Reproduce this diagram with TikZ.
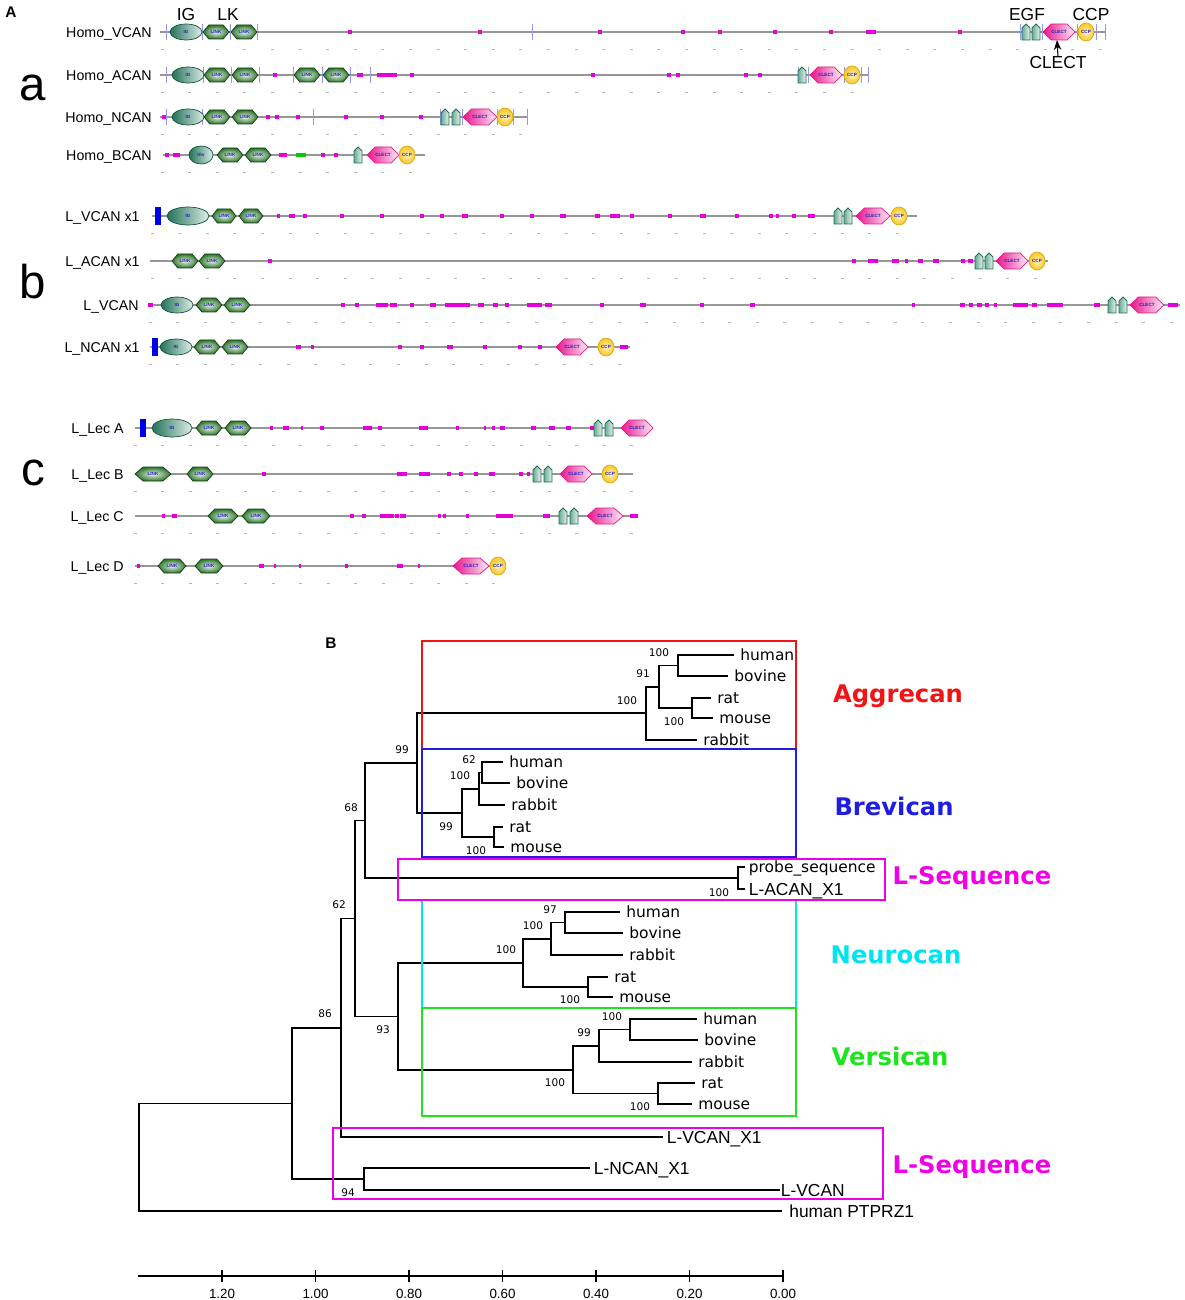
\documentclass[tikz,border=0pt]{standalone}
\usepackage{fontspec}
\setmainfont{Liberation Sans}
\newfontfamily\treefont{DejaVu Sans}
\usetikzlibrary{arrows.meta}

\definecolor{igg}{RGB}{40,135,105}
\definecolor{lkg}{RGB}{45,120,45}
\definecolor{clp}{RGB}{232,20,140}
\definecolor{ccy}{RGB}{250,200,30}
\definecolor{lowc}{RGB}{230,0,220}
\definecolor{rowg}{RGB}{150,150,150}
\definecolor{bndb}{RGB}{150,150,235}
\definecolor{dtxt}{RGB}{30,30,200}
\definecolor{boxr}{RGB}{240,20,20}
\definecolor{boxb}{RGB}{30,30,220}
\definecolor{boxm}{RGB}{240,0,230}
\definecolor{boxc}{RGB}{0,228,240}
\definecolor{boxg}{RGB}{30,228,30}

% domain glyphs (x, y, ...)
\newcommand\igdom[5]{%
  \shade[left color=igg!85!black, right color=igg!15!white, draw=igg!60!black, line width=0.4pt]
    (#1,#2) ellipse [x radius=#3, y radius=#4];
  \node[dtext] at (#1,#2) {#5};}
\newcommand\lnkdom[3]{%
  \shade[inner color=lkg!10!white, outer color=lkg, draw=lkg!50!black, line width=0.4pt]
    (#1-#3,#2) -- (#1-0.55*#3,#2-7) -- (#1+0.55*#3,#2-7) -- (#1+#3,#2)
    -- (#1+0.55*#3,#2+7) -- (#1-0.55*#3,#2+7) -- cycle;
  \node[dtext] at (#1,#2) {LINK};}
\newcommand\cldom[3]{%
  \shade[left color=clp, right color=clp!8!white, draw=clp, line width=0.4pt]
    (#1-#3,#2) -- (#1-0.5*#3,#2-8) -- (#1+0.5*#3,#2-8) -- (#1+#3,#2)
    -- (#1+0.5*#3,#2+8) -- (#1-0.5*#3,#2+8) -- cycle;
  \node[dtext] at (#1,#2) {CLECT};}
\newcommand\ccpdom[2]{%
  \shade[inner color=ccy!25!white, outer color=ccy, draw=ccy!85!black, line width=0.4pt]
    (#1,#2) ellipse [x radius=8, y radius=9];
  \node[dtext] at (#1,#2) {CCP};}
\newcommand\egfdom[2]{%
  \shade[left color=igg!70!white, right color=igg!10!white, draw=igg!80!black, line width=0.5pt]
    (#1-4,#2+8) -- (#1-4,#2-4) -- (#1,#2-8) -- (#1+4,#2-4) -- (#1+4,#2+8) -- cycle;}
\newcommand\sigdom[2]{\fill[blue!90!black] (#1-3,#2-9) rectangle (#1+3,#2+9);}
% low complexity bars, boundary marks, ruler
\newcommand\lcbars[2]{\foreach \a/\b in {#2} \fill[lowc] (\a,#1-1.9) rectangle (\b,#1+1.9);}
\newcommand\bnds[2]{\foreach \a in {#2} \draw[bndb, line width=0.4pt] (\a,#1-8) -- (\a,#1+8);}
\newcommand\ruler[3]{\foreach \k in {0,...,#3}
  \draw[rowg!70, line width=0.5pt] ({#1+27.6*\k-1.5},#2+17) -- ({#1+27.6*\k+1.5},#2+17);}

\begin{document}
\begin{tikzpicture}[x=0.02cm, y=-0.02cm, >=Stealth,
    rowlab/.style={anchor=east, inner sep=0pt, text height=5.8pt, text depth=0pt, font=\fontsize{8.1}{9}\selectfont},
    domhead/.style={inner sep=0pt, font=\fontsize{9.9}{11}\selectfont},
    dtext/.style={inner sep=0pt, text=dtxt, font=\bfseries\fontsize{2.6}{3}\selectfont},
    sublab/.style={inner sep=0pt, font=\fontsize{27}{30}\selectfont},
    panlab/.style={inner sep=0pt, font=\bfseries\fontsize{8.8}{10}\selectfont},
    rowline/.style={draw=rowg, line width=0.7pt},
    leaf/.style={anchor=west, inner xsep=3.4pt, inner ysep=0pt, text height=6.4pt, text depth=0pt, font=\treefont\fontsize{8.8}{10}\selectfont},
    aleaf/.style={anchor=west, inner xsep=2pt, inner ysep=0pt, text height=7pt, text depth=0pt, font=\fontsize{9.9}{11}\selectfont},
    boot/.style={inner sep=0pt, font=\treefont\fontsize{6}{7}\selectfont},
    grp/.style={inner sep=0pt, font=\treefont\bfseries\fontsize{13.8}{15}\selectfont},
    br/.style={line width=0.8pt},
    bx/.style={line width=1.3pt}]
  \useasboundingbox (0,0) rectangle (1184,1300);

  % ---------------- Panel A ----------------
  \node[panlab] (pA) at (11,12) {A};
  \node[sublab] (sa) at (33,88) {a};
  \node[sublab] (sb) at (33,282) {b};
  \node[sublab] (sc) at (33,473) {c};

  % Homo_VCAN
  \node[rowlab] (r1) at (152,32) {Homo\_VCAN};
  \draw[rowline] (160,32) -- (1105,32);
  \ruler{162}{32}{34}
  \bnds{32}{166,202,230,257,532,1020,1042,1077,1096,1105}
  \lcbars{32}{348/352,478/482,598/602,681/685,718/722,773/777,829/833,866/876,958/962}
  \igdom{186}{32}{16}{8}{IG}
  \lnkdom{216}{32}{13} \lnkdom{244}{32}{13}
  \egfdom{1026}{32} \egfdom{1036}{32}
  \cldom{1059}{32}{16}
  \ccpdom{1086}{32}
  \node[domhead] (hIG) at (186,15) {IG};
  \node[domhead] (hLK) at (228,15) {LK};
  \node[domhead] (hEGF) at (1027,15) {EGF};
  \node[domhead] (hCCP) at (1091,15) {CCP};
  \node[domhead] (hCL) at (1058,63) {CLECT};
  \coordinate (vcl) at (1057,40);
  \draw[->, line width=0.6pt] (hCL.north) -- (vcl);

  % Homo_ACAN
  \node[rowlab] (r2) at (152,75) {Homo\_ACAN};
  \draw[rowline] (160,75) -- (868,75);
  \ruler{162}{75}{25}
  \bnds{75}{166,203,231,259,293,322,350,370,798,808,844,861,868}
  \lcbars{75}{273/277,357/363,377/397,410/414,591/595,667/671,676/680,744/748,758/762}
  \igdom{188}{75}{16}{8}{IG}
  \lnkdom{217}{75}{13} \lnkdom{245}{75}{13}
  \lnkdom{307}{75}{13} \lnkdom{336}{75}{13}
  \egfdom{802}{75}
  \cldom{826}{75}{16}
  \ccpdom{852}{75}

  % Homo_NCAN
  \node[rowlab] (r3) at (152,117) {Homo\_NCAN};
  \draw[rowline] (160,117) -- (527,117);
  \ruler{162}{117}{13}
  \bnds{117}{166,202,313,440,462,497,513,527}
  \lcbars{117}{162/166,266/270,275/279,296/300,344/348,380/384,419/423}
  \igdom{188}{117}{16}{8}{IG}
  \lnkdom{217}{117}{13} \lnkdom{245}{117}{13}
  \egfdom{445}{117} \egfdom{456}{117}
  \cldom{480}{117}{17}
  \ccpdom{505}{117}

  % Homo_BCAN
  \node[rowlab] (r4) at (152,155) {Homo\_BCAN};
  \draw[rowline] (163,155) -- (425,155);
  \ruler{162}{155}{9}
  \lcbars{155}{165/169,173/180,279/287,321/325,334/338}
  \fill[green!80!black] (296,153.1) rectangle (306,156.9);
  \igdom{201}{155}{12}{9}{IGv}
  \lnkdom{230}{155}{13} \lnkdom{258}{155}{13}
  \egfdom{358}{155}
  \cldom{383}{155}{16}
  \ccpdom{407}{155}

  % L_VCAN x1
  \node[rowlab] (r5) at (140,216) {L\_VCAN x1};
  \draw[rowline] (152,216) -- (917,216);
  \ruler{152}{216}{27}
  \sigdom{158}{216}
  \lcbars{216}{277/280,289/295,303/307,340/344,380/384,420/424,440/444,462/468,500/504,530/534,560/566,595/600,610/620,630/634,668/672,700/706,735/739,769/773,776/779,792/796,808/815}
  \igdom{188}{216}{21}{9}{IG}
  \lnkdom{224}{216}{12} \lnkdom{251}{216}{12}
  \egfdom{838}{216} \egfdom{848}{216}
  \cldom{873}{216}{17}
  \ccpdom{899}{216}

  % L_ACAN x1
  \node[rowlab] (r6) at (140,261) {L\_ACAN x1};
  \draw[rowline] (150,261) -- (1048,261);
  \ruler{152}{261}{32}
  \lcbars{261}{268/272,852/856,868/878,892/899,905/908,918/923,933/939,961/965,968/973}
  \lnkdom{185}{261}{13} \lnkdom{212}{261}{13}
  \egfdom{979}{261} \egfdom{989}{261}
  \cldom{1012}{261}{16}
  \ccpdom{1037}{261}

  % L_VCAN
  \node[rowlab] (r7) at (139,305) {L\_VCAN};
  \draw[rowline] (148,305) -- (1180,305);
  \ruler{150}{305}{37}
  \lcbars{305}{148/153,341/345,355/359,376/388,390/397,410/414,430/436,445/470,478/484,493/498,505/509,527/542,545/552,600/604,640/646,700/704,750/755,912/915,960/965,969/973,977/982,985/989,994/997,1013/1028,1032/1037,1047/1063,1094/1100,1168/1178}
  \igdom{177}{305}{16}{8}{IG}
  \lnkdom{209}{305}{13} \lnkdom{237}{305}{13}
  \egfdom{1112}{305} \egfdom{1123}{305}
  \cldom{1147}{305}{17}

  % L_NCAN x1
  \node[rowlab] (r8) at (140,347) {L\_NCAN x1};
  \draw[rowline] (150,347) -- (630,347);
  \ruler{150}{347}{17}
  \sigdom{155}{347}
  \lcbars{347}{296/301,311/314,398/402,420/424,447/453,483/487,518/522,538/542,620/628}
  \igdom{176}{347}{16}{8}{IG}
  \lnkdom{207}{347}{13} \lnkdom{235}{347}{13}
  \cldom{572}{347}{16}
  \ccpdom{606}{347}

  % L_Lec A
  \node[rowlab] (r9) at (124,428) {L\_Lec A};
  \draw[rowline] (135,428) -- (653,428);
  \ruler{135}{428}{18}
  \sigdom{143}{428}
  \lcbars{428}{270/273,283/289,301/303,320/324,363/372,378/382,419/428,456/459,484/486,492/495,500/505,531/536,549/555,566/571,590/594}
  \igdom{172}{428}{20}{9}{IG}
  \lnkdom{209}{428}{13} \lnkdom{238}{428}{13}
  \egfdom{598}{428} \egfdom{609}{428}
  \cldom{637}{428}{16}

  % L_Lec B
  \node[rowlab] (r10) at (124,474) {L\_Lec B};
  \draw[rowline] (135,474) -- (633,474);
  \ruler{135}{474}{18}
  \lcbars{474}{262/266,397/407,419/430,447/451,459/463,474/478,489/495,519/523,527/530}
  \lnkdom{153}{474}{18} \lnkdom{200}{474}{13}
  \egfdom{537}{474} \egfdom{548}{474}
  \cldom{576}{474}{16}
  \ccpdom{610}{474}

  % L_Lec C
  \node[rowlab] (r11) at (124,516) {L\_Lec C};
  \draw[rowline] (135,516) -- (638,516);
  \ruler{135}{516}{18}
  \lcbars{516}{162/165,172/177,350/354,362/366,380/394,395/399,400/406,438/441,443/446,466/469,496/513,543/550,630/638}
  \lnkdom{223}{516}{15} \lnkdom{256}{516}{14}
  \egfdom{563}{516} \egfdom{574}{516}
  \cldom{605}{516}{18}

  % L_Lec D
  \node[rowlab] (r12) at (124,566) {L\_Lec D};
  \draw[rowline] (135,566) -- (505,566);
  \ruler{135}{566}{13}
  \lcbars{566}{137/140,259/264,274/276,299/301,345/348,397/403,418/420}
  \lnkdom{172}{566}{14} \lnkdom{209}{566}{14}
  \cldom{471}{566}{18}
  \ccpdom{498}{566}

  % ---------------- Panel B ----------------
  \node[panlab] (pB) at (331,643) {B};

  % Aggrecan
  \node[leaf] (aHu) at (734,655) {human};
  \node[leaf] (aBo) at (728,676) {bovine};
  \node[leaf] (aRa) at (711,698) {rat};
  \node[leaf] (aMo) at (713,718) {mouse};
  \node[leaf] (aRb) at (697,740) {rabbit};
  \coordinate (a1) at (678,665.5);
  \coordinate (a2) at (692,708);
  \coordinate (a3) at (659,687);
  \coordinate (a4) at (646,713);
  \draw[br] (a1) |- (aHu.west) (a1) |- (aBo.west) (a2) |- (aRa.west) (a2) |- (aMo.west)
    (a3) |- (a1) (a3) |- (a2) (a4) |- (a3) (a4) |- (aRb.west);
  \node[boot] at (659,653) {100};
  \node[boot] at (643,674) {91};
  \node[boot] at (627,701) {100};
  \node[boot] at (674,722) {100};

  % Brevican
  \node[leaf] (bHu) at (503,762) {human};
  \node[leaf] (bBo) at (510,783) {bovine};
  \node[leaf] (bRb) at (505,805) {rabbit};
  \node[leaf] (bRa) at (503,827) {rat};
  \node[leaf] (bMo) at (504,847) {mouse};
  \coordinate (b1) at (482,772.5);
  \coordinate (b2) at (479,789);
  \coordinate (b3) at (494,837);
  \coordinate (b4) at (462,813);
  \draw[br] (b1) |- (bHu.west) (b1) |- (bBo.west) (b2) |- (b1) (b2) |- (bRb.west)
    (b3) |- (bRa.west) (b3) |- (bMo.west) (b4) |- (b2) (b4) |- (b3);
  \node[boot] at (469,760) {62};
  \node[boot] at (460,776) {100};
  \node[boot] at (446,827) {99};
  \node[boot] at (476,851) {100};

  % probe / L-ACAN_X1
  \node[leaf, inner xsep=2pt] (pPr) at (745,867) {probe\_sequence};
  \node[aleaf] (pLa) at (745,889) {L-ACAN\_X1};
  \coordinate (p1) at (738,878);
  \draw[br] (p1) |- (pPr.west) (p1) |- (pLa.west);
  \node[boot] at (719,893) {100};

  % Neurocan
  \node[leaf] (nHu) at (620,912) {human};
  \node[leaf] (nBo) at (623,933) {bovine};
  \node[leaf] (nRb) at (623,955) {rabbit};
  \node[leaf] (nRa) at (608,977) {rat};
  \node[leaf] (nMo) at (613,997) {mouse};
  \coordinate (n1) at (565,922.5);
  \coordinate (n2) at (551,939);
  \coordinate (n3) at (588,987);
  \coordinate (n4) at (523,963);
  \draw[br] (n1) |- (nHu.west) (n1) |- (nBo.west) (n2) |- (n1) (n2) |- (nRb.west)
    (n3) |- (nRa.west) (n3) |- (nMo.west) (n4) |- (n2) (n4) |- (n3);
  \node[boot] at (550,910) {97};
  \node[boot] at (533,926) {100};
  \node[boot] at (506,950) {100};
  \node[boot] at (570,1000) {100};

  % Versican
  \node[leaf] (vHu) at (697,1019) {human};
  \node[leaf] (vBo) at (698,1040) {bovine};
  \node[leaf] (vRb) at (692,1062) {rabbit};
  \node[leaf] (vRa) at (695,1083) {rat};
  \node[leaf] (vMo) at (692,1104) {mouse};
  \coordinate (v1) at (630,1029.5);
  \coordinate (v2) at (599,1046);
  \coordinate (v3) at (658,1093.5);
  \coordinate (v4) at (573,1070);
  \draw[br] (v1) |- (vHu.west) (v1) |- (vBo.west) (v2) |- (v1) (v2) |- (vRb.west)
    (v3) |- (vRa.west) (v3) |- (vMo.west) (v4) |- (v2) (v4) |- (v3);
  \node[boot] at (612,1017) {100};
  \node[boot] at (584,1033) {99};
  \node[boot] at (555,1083) {100};
  \node[boot] at (640,1107) {100};

  % L-sequences and outgroup
  \node[aleaf] (lX) at (663,1137) {L-VCAN\_X1};
  \node[aleaf] (lN) at (590,1168) {L-NCAN\_X1};
  \node[aleaf, inner xsep=0.3pt] (lV) at (780,1190) {L-VCAN};
  \node[aleaf, inner xsep=4pt] (out) at (782,1211) {human PTPRZ1};

  % deeper nodes
  \coordinate (c1) at (417,763);
  \coordinate (c2) at (365,820.5);
  \coordinate (c3) at (398,1016.5);
  \coordinate (c4) at (355,918.5);
  \coordinate (l1) at (364,1179);
  \coordinate (c5) at (341,1028);
  \coordinate (c6) at (292,1103.5);
  \coordinate (c7) at (139,1157);
  \draw[br] (c1) |- (a4) (c1) |- (b4) (c2) |- (c1) (c2) |- (p1)
    (c3) |- (n4) (c3) |- (v4) (c4) |- (c2) (c4) |- (c3)
    (l1) |- (lN.west) (l1) |- (lV.west) (c5) |- (c4) (c5) |- (lX.west)
    (c6) |- (c5) (c6) |- (l1) (c7) |- (c6) (c7) |- (out.west);
  \node[boot] at (402,750) {99};
  \node[boot] at (351,808) {68};
  \node[boot] at (339,905) {62};
  \node[boot] at (383,1030) {93};
  \node[boot] at (325,1014) {86};
  \node[boot] at (348,1193) {94};

  % group boxes
  \draw[boxr, bx] (422,641) rectangle (796,749);
  \draw[boxb, bx] (422,749) rectangle (796,857);
  \draw[boxc, bx] (422,900) rectangle (796,1008);
  \draw[boxg, bx] (422,1008) rectangle (796,1116);
  \draw[boxm, bx] (398,859) rectangle (885,900);
  \draw[boxm, bx] (333,1128) rectangle (883,1199);

  % group labels
  \node[grp, text=boxr] (gA) at (898,696) {Aggrecan};
  \node[grp, text=boxb] (gB) at (894,806) {Brevican};
  \node[grp, text=boxm] (gL1) at (972,878) {L-Sequence};
  \node[grp, text=boxc] (gN) at (896,955) {Neurocan};
  \node[grp, text=boxg] (gV) at (890,1056) {Versican};
  \node[grp, text=boxm] (gL2) at (972,1167) {L-Sequence};

  % scale
  \draw[br] (138,1276) -- (783,1276);
  \foreach \v in {1.20,1.00,0.80,0.60,0.40,0.20,0.00} {
    \draw[br] ({783-\v*467.5},1270) -- ({783-\v*467.5},1282);
    \node[inner sep=0pt, font=\fontsize{7.6}{8}\selectfont] at ({783-\v*467.5},1294) {\v};
  }
\end{tikzpicture}
\end{document}
